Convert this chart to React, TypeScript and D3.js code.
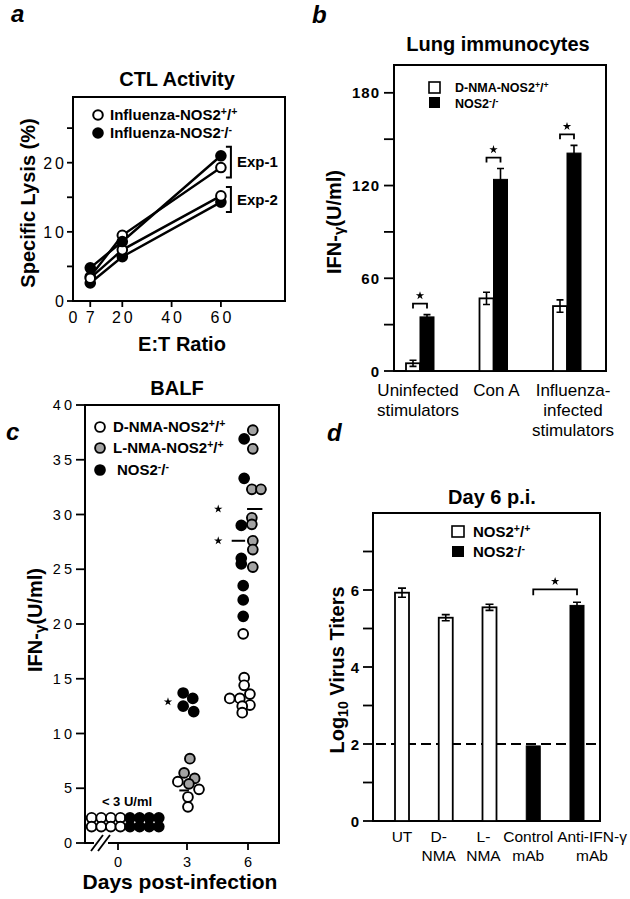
import React from 'react';
import * as d3 from 'd3';

const FONT = '"Liberation Sans", Arial, Helvetica, sans-serif';

// ---------- Panel a: CTL activity ----------
const etRatios = [7, 20, 60];
const ctlExp1WT = [3.5, 9.5, 19.3];
const ctlExp1KO = [4.8, 8.6, 21.0];
const ctlExp2WT = [3.3, 7.4, 15.2];
const ctlExp2KO = [2.6, 6.4, 14.3];
const ctlYTicks = [0, 5, 10, 15, 20, 25];
const ctlYTickLabels = [0, 10, 20];
const ctlXTicks = [7, 20, 40, 60];
const ctlXTickLabels = [0, 7, 20, 40, 60];

// ---------- Panel b: Lung immunocytes ----------
const lungCategories = ['Uninfected stimulators', 'Con A', 'Influenza-infected stimulators'];
const lungCategoryLines = [['Uninfected', 'stimulators'], ['Con A'], ['Influenza-', 'infected', 'stimulators']];
const lungWT = [5, 47, 42];
const lungWTErr = [2, 4, 4];
const lungKO = [35, 124, 141];
const lungKOErr = [1.5, 7, 5];
const lungYTicks = [0, 30, 60, 90, 120, 150, 180];
const lungYTickLabels = [0, 60, 120, 180];

// ---------- Panel c: BALF ----------
type Pt = { day: number; value: number; slot: number };
const balfDays = [0, 3, 6];
const balfDNMA: Pt[] = [
  { day: 0, value: 2.3, slot: -2.75 }, { day: 0, value: 2.3, slot: -1.75 }, { day: 0, value: 2.3, slot: -0.75 }, { day: 0, value: 2.3, slot: 0.25 },
  { day: 0, value: 1.5, slot: -2.75 }, { day: 0, value: 1.5, slot: -1.75 }, { day: 0, value: 1.5, slot: -0.75 }, { day: 0, value: 1.5, slot: 0.25 },
  { day: 3, value: 5.6, slot: -0.95 }, { day: 3, value: 4.9, slot: 1.25 }, { day: 3, value: 4.2, slot: 0.1 }, { day: 3, value: 3.3, slot: 0.1 },
  { day: 6, value: 19.1, slot: -0.5 }, { day: 6, value: 15.1, slot: -0.4 }, { day: 6, value: 14.4, slot: -0.4 },
  { day: 6, value: 13.2, slot: -1.9 }, { day: 6, value: 13.2, slot: -0.85 }, { day: 6, value: 13.6, slot: 0.2 },
  { day: 6, value: 12.6, slot: 0.2 }, { day: 6, value: 12.5, slot: -0.6 }, { day: 6, value: 11.9, slot: -0.6 },
];
const balfLNMA: Pt[] = [
  { day: 3, value: 7.7, slot: 0.3 }, { day: 3, value: 6.4, slot: -0.3 }, { day: 3, value: 5.9, slot: 0.8 }, { day: 3, value: 5.4, slot: 0.2 },
  { day: 6, value: 37.7, slot: 0.5 }, { day: 6, value: 36.0, slot: 0.5 }, { day: 6, value: 32.3, slot: 0.4 },
  { day: 6, value: 32.3, slot: 1.35 }, { day: 6, value: 29.7, slot: 0.4 }, { day: 6, value: 29.1, slot: 0.4 },
  { day: 6, value: 27.6, slot: 0.5 }, { day: 6, value: 26.8, slot: 0.5 }, { day: 6, value: 25.2, slot: 0.5 },
];
const balfKO: Pt[] = [
  { day: 0, value: 2.3, slot: 1.25 }, { day: 0, value: 2.3, slot: 2.25 }, { day: 0, value: 2.3, slot: 3.25 }, { day: 0, value: 2.3, slot: 4.25 },
  { day: 0, value: 1.5, slot: 1.25 }, { day: 0, value: 1.5, slot: 2.25 }, { day: 0, value: 1.5, slot: 3.25 }, { day: 0, value: 1.5, slot: 4.25 },
  { day: 3, value: 13.7, slot: -0.4 }, { day: 3, value: 13.2, slot: 0.6 }, { day: 3, value: 12.5, slot: -0.4 }, { day: 3, value: 12.0, slot: 0.7 },
  { day: 6, value: 36.9, slot: -0.4 }, { day: 6, value: 33.3, slot: -0.4 }, { day: 6, value: 29.0, slot: -0.7 },
  { day: 6, value: 26.0, slot: -0.7 }, { day: 6, value: 25.5, slot: -0.7 }, { day: 6, value: 23.5, slot: -0.5 },
  { day: 6, value: 22.2, slot: -0.5 }, { day: 6, value: 20.7, slot: -0.5 },
];
const balfMeans = [
  { day: 3, value: 4.8, slot: -0.3, half: 0.5 },
  { day: 6, value: 30.5, slot: 0.7, half: 0.8 },
  { day: 6, value: 27.6, slot: -1.0, half: 0.7 },
];
const balfStars = [
  { day: 3, value: 12.9, slot: -1.98 },
  { day: 6, value: 30.5, slot: -3.1 },
  { day: 6, value: 27.6, slot: -3.1 },
];
const balfYTicks = [0, 5, 10, 15, 20, 25, 30, 35, 40];

// ---------- Panel d: Day 6 p.i. ----------
const titerCats = ['UT', 'D-NMA', 'L-NMA', 'Control mAb', 'Anti-IFN-γ mAb'];
const titerLabelLines = [['UT'], ['D-', 'NMA'], ['L-', 'NMA'], ['Control', 'mAb'], ['Anti-IFN-γ', 'mAb']];
const titerGenotype = ['wt', 'wt', 'wt', 'ko', 'ko'];
const titerValues = [5.93, 5.28, 5.55, 1.95, 5.6];
const titerErr = [0.12, 0.08, 0.08, 0, 0.08];
const titerYTicks = [0, 1, 2, 3, 4, 5, 6, 7];
const titerYTickLabels = [0, 2, 4, 6];
const detectionLimit = 2;

// ---------- helpers ----------
const SLOT = 9.6;
const starPath = d3.symbol().type(d3.symbolStar).size(22)() as string;

function Nos({ prefix, sign, size }: { prefix: string; sign: string; size: number }) {
  const s = size * 0.7;
  const up = size * 0.34;
  return (
    <>
      {prefix}NOS2
      <tspan dy={-up} fontSize={s}>{sign}</tspan>
      <tspan dy={up}>/</tspan>
      <tspan dy={-up} fontSize={s}>{sign}</tspan>
    </>
  );
}

function Star({ x, y }: { x: number; y: number }) {
  return <path d={starPath} transform={`translate(${x},${y})`} fill="#000" />;
}

// ---------- Panel A ----------
function PanelA() {
  const x = d3.scaleLinear().domain([0, 86]).range([73, 285]);
  const y = d3.scaleLinear().domain([0, 29.5]).range([301, 97]);
  const line = d3.line<number>().x((_, i) => x(etRatios[i])).y((d) => y(d));
  const series = [
    { v: ctlExp1WT, fill: '#fff' },
    { v: ctlExp2KO, fill: '#000' },
    { v: ctlExp2WT, fill: '#fff' },
    { v: ctlExp1KO, fill: '#000' },
  ];
  const exps = [
    { name: 'Exp-1', vals: [ctlExp1WT[2], ctlExp1KO[2]] },
    { name: 'Exp-2', vals: [ctlExp2WT[2], ctlExp2KO[2]] },
  ];
  return (
    <g>
      <text x={11} y={22} fontSize={24} fontWeight="bold" fontStyle="italic">a</text>
      <text x={177} y={86} fontSize={20} fontWeight="bold" textAnchor="middle">CTL Activity</text>
      <rect x={x(0)} y={y(29.5)} width={x(86) - x(0)} height={y(0) - y(29.5)} fill="none" stroke="#000" strokeWidth={2} />
      {ctlYTicks.map((t) => (
        <line key={t} x1={x(0) - 6} x2={x(0)} y1={y(t)} y2={y(t)} stroke="#000" strokeWidth={1.8} />
      ))}
      {ctlYTickLabels.map((t) => (
        <text key={t} x={67} y={y(t) + 6} fontSize={16} textAnchor="end" letterSpacing={3}>{t}</text>
      ))}
      {ctlXTicks.map((t) => (
        <line key={t} x1={x(t)} x2={x(t)} y1={y(0)} y2={y(0) + 6} stroke="#000" strokeWidth={1.8} />
      ))}
      {ctlXTickLabels.map((t) => (
        <text key={t} x={x(t) + (t >= 10 ? 1.5 : 0)} y={323} fontSize={16} textAnchor="middle" letterSpacing={t >= 10 ? 3 : 0}>{t}</text>
      ))}
      <text x={182} y={351} fontSize={20} fontWeight="bold" textAnchor="middle">E:T Ratio</text>
      <text transform="translate(35,203) rotate(-90)" fontSize={20} fontWeight="bold" textAnchor="middle">Specific Lysis (%)</text>
      {series.map((s, i) => (
        <path key={i} d={line(s.v) as string} fill="none" stroke="#000" strokeWidth={2.4} />
      ))}
      {series.map((s, i) =>
        s.v.map((v, j) => (
          <circle key={`${i}-${j}`} cx={x(etRatios[j])} cy={y(v)} r={4.8} fill={s.fill} stroke="#000" strokeWidth={2} />
        ))
      )}
      {exps.map((e) => {
        const top = y(d3.max(e.vals) as number) - 9;
        const bot = y(d3.min(e.vals) as number) + 10;
        const bx = x(60) + 10;
        return (
          <g key={e.name}>
            <path d={`M${bx - 5},${top}H${bx}V${bot}H${bx - 5}`} fill="none" stroke="#000" strokeWidth={2} />
            <text x={bx + 6} y={(top + bot) / 2 + 5} fontSize={15} fontWeight="bold">{e.name}</text>
          </g>
        );
      })}
      <circle cx={98} cy={115} r={4.8} fill="#fff" stroke="#000" strokeWidth={2} />
      <circle cx={98} cy={133} r={4.8} fill="#000" stroke="#000" strokeWidth={2} />
      <text x={110} y={120} fontSize={15} fontWeight="bold">
        <Nos prefix="Influenza-" sign="+" size={15} />
      </text>
      <text x={110} y={138} fontSize={15} fontWeight="bold">
        <Nos prefix="Influenza-" sign="-" size={15} />
      </text>
    </g>
  );
}

// ---------- Panel B ----------
function PanelB() {
  const y = d3.scaleLinear().domain([0, 198]).range([371, 65]);
  const x = d3.scalePoint<string>().domain(lungCategories).range([420, 567]);
  const bw = 14;
  const labelNudge = [-2, 3, 6];
  return (
    <g>
      <text x={312} y={23} fontSize={24} fontWeight="bold" fontStyle="italic">b</text>
      <text x={498} y={51} fontSize={20} fontWeight="bold" textAnchor="middle">Lung immunocytes</text>
      <rect x={394} y={y(198)} width={212} height={y(0) - y(198)} fill="none" stroke="#000" strokeWidth={2} />
      {lungYTicks.map((t) => (
        <line key={t} x1={384} x2={394} y1={y(t)} y2={y(t)} stroke="#000" strokeWidth={1.8} />
      ))}
      {lungYTickLabels.map((t) => (
        <text key={t} x={380} y={y(t) + 5.5} fontSize={15} fontWeight="bold" textAnchor="end" letterSpacing={1}>{t}</text>
      ))}
      <text transform="translate(341,222) rotate(-90)" fontSize={20} fontWeight="bold" textAnchor="middle">
        IFN-<tspan fontSize={15} dy={3}>γ</tspan><tspan dy={-3}>(U/ml)</tspan>
      </text>
      {lungCategories.map((c, i) => {
        const cx = x(c) as number;
        const top = y(Math.max(lungWT[i] + lungWTErr[i], lungKO[i] + lungKOErr[i])) - 11;
        return (
          <g key={c}>
            <rect x={cx - bw} y={y(lungWT[i])} width={bw} height={y(0) - y(lungWT[i])} fill="#fff" stroke="#000" strokeWidth={1.8} />
            <rect x={cx} y={y(lungKO[i])} width={bw} height={y(0) - y(lungKO[i])} fill="#000" stroke="#000" strokeWidth={1} />
            {[{ v: lungWT[i], e: lungWTErr[i], c: cx - bw / 2 }, { v: lungKO[i], e: lungKOErr[i], c: cx + bw / 2 }].map((b, k) => (
              <path key={k} d={`M${b.c},${y(b.v - b.e)}V${y(b.v + b.e)}M${b.c - 3.5},${y(b.v + b.e)}h7M${b.c - 3.5},${y(b.v - b.e)}h7`} stroke="#000" strokeWidth={1.6} fill="none" />
            ))}
            <path d={`M${cx - 7},${top + 5}V${top}H${cx + 7}V${top + 5}`} fill="none" stroke="#000" strokeWidth={1.8} />
            <Star x={cx} y={top - 8} />
            {lungCategoryLines[i].map((l, k) => (
              <text key={k} x={cx + labelNudge[i]} y={396 + k * 20} fontSize={17} textAnchor="middle">{l}</text>
            ))}
          </g>
        );
      })}
      <rect x={429} y={82} width={11} height={11} fill="#fff" stroke="#000" strokeWidth={1.6} />
      <rect x={429} y={97} width={11} height={11} fill="#000" />
      <text x={455} y={92} fontSize={12.5} fontWeight="bold"><Nos prefix="D-NMA-" sign="+" size={12.5} /></text>
      <text x={455} y={108} fontSize={12.5} fontWeight="bold"><Nos prefix="" sign="-" size={12.5} /></text>
    </g>
  );
}

// ---------- Panel C ----------
function PanelC() {
  const y = d3.scaleLinear().domain([0, 40]).range([843, 405]);
  const x = d3.scaleLinear().domain(balfDays).range([118, 187, 248]);
  const px = (p: { day: number; slot: number }) => x(p.day) + p.slot * SLOT;
  const groups = [
    { pts: balfDNMA, fill: '#fff' },
    { pts: balfKO, fill: '#000' },
    { pts: balfLNMA, fill: '#a3a3a3' },
  ];
  return (
    <g>
      <text x={6} y={440} fontSize={24} fontWeight="bold" fontStyle="italic">c</text>
      <text x={177} y={395} fontSize={20} fontWeight="bold" textAnchor="middle">BALF</text>
      <rect x={85} y={y(40)} width={279 - 85} height={y(0) - y(40)} fill="none" stroke="#000" strokeWidth={2} />
      {balfYTicks.map((t) => (
        <g key={t}>
          <line x1={76} x2={85} y1={y(t)} y2={y(t)} stroke="#000" strokeWidth={1.8} />
          <text x={75} y={y(t) + 5} fontSize={14.5} textAnchor="end" letterSpacing={3}>{t}</text>
        </g>
      ))}
      {balfDays.map((d) => (
        <g key={d}>
          <line x1={x(d)} x2={x(d)} y1={y(0)} y2={y(0) + 7} stroke="#000" strokeWidth={1.8} />
          <text x={x(d)} y={867} fontSize={14.5} textAnchor="middle">{d}</text>
        </g>
      ))}
      <line x1={94} x2={108} y1={y(0)} y2={y(0)} stroke="#fff" strokeWidth={4} />
      <line x1={91} y1={851} x2={103} y2={835} stroke="#000" strokeWidth={1.8} />
      <line x1={98} y1={851} x2={110} y2={835} stroke="#000" strokeWidth={1.8} />
      <text x={180} y={889} fontSize={21} fontWeight="bold" textAnchor="middle">Days post-infection</text>
      <text transform="translate(42,620) rotate(-90)" fontSize={20} fontWeight="bold" textAnchor="middle">
        IFN-<tspan fontSize={15} dy={3}>γ</tspan><tspan dy={-3}>(U/ml)</tspan>
      </text>
      <text x={127} y={806} fontSize={13} fontWeight="bold" textAnchor="middle">&lt; 3 U/ml</text>
      {balfMeans.map((m, i) => (
        <line key={i} x1={px(m) - m.half * SLOT} x2={px(m) + m.half * SLOT} y1={y(m.value)} y2={y(m.value)} stroke="#000" strokeWidth={2} />
      ))}
      {groups.map((g, gi) =>
        g.pts.map((p, i) => (
          <circle key={`${gi}-${i}`} cx={px(p)} cy={y(p.value)} r={4.9} fill={g.fill} stroke="#000" strokeWidth={1.9} />
        ))
      )}
      {balfStars.map((s, i) => (
        <Star key={i} x={px(s)} y={y(s.value)} />
      ))}
      <circle cx={100} cy={427} r={4.9} fill="#fff" stroke="#000" strokeWidth={1.9} />
      <circle cx={100} cy={448} r={4.9} fill="#a3a3a3" stroke="#000" strokeWidth={1.9} />
      <circle cx={100} cy={470} r={4.9} fill="#000" stroke="#000" strokeWidth={1.9} />
      <text x={113} y={432} fontSize={15} fontWeight="bold"><Nos prefix="D-NMA-" sign="+" size={15} /></text>
      <text x={113} y={453} fontSize={15} fontWeight="bold"><Nos prefix="L-NMA-" sign="+" size={15} /></text>
      <text x={117} y={475} fontSize={15} fontWeight="bold"><Nos prefix="" sign="-" size={15} /></text>
    </g>
  );
}

// ---------- Panel D ----------
function PanelD() {
  const y = d3.scaleLinear().domain([0, 8]).range([821, 513]);
  const x = d3.scalePoint<string>().domain(titerCats).range([402, 577]);
  const bw = 14;
  const labelNudge = [0, -7, -6, -5, 15];
  const cA = x(titerCats[3]) as number;
  const cB = x(titerCats[4]) as number;
  const bTop = y(Math.max(titerValues[3] + titerErr[3], titerValues[4] + titerErr[4])) - 13;
  return (
    <g>
      <text x={327} y={441} fontSize={24} fontWeight="bold" fontStyle="italic">d</text>
      <text x={492} y={504} fontSize={20} fontWeight="bold" textAnchor="middle">Day 6 p.i.</text>
      <rect x={373} y={y(8)} width={600 - 373} height={y(0) - y(8)} fill="none" stroke="#000" strokeWidth={2} />
      {titerYTicks.map((t) => (
        <line key={t} x1={363} x2={373} y1={y(t)} y2={y(t)} stroke="#000" strokeWidth={1.8} />
      ))}
      {titerYTickLabels.map((t) => (
        <text key={t} x={359} y={y(t) + 5.5} fontSize={15} fontWeight="bold" textAnchor="end">{t}</text>
      ))}
      <text transform="translate(344,670) rotate(-90)" fontSize={20} fontWeight="bold" textAnchor="middle">
        Log<tspan fontSize={14} dy={4}>10</tspan><tspan dy={-4}> Virus Titers</tspan>
      </text>
      <line x1={376} x2={600} y1={y(detectionLimit)} y2={y(detectionLimit)} stroke="#000" strokeWidth={2} strokeDasharray="10,5" />
      {titerCats.map((c, i) => {
        const cx = x(c) as number;
        const v = titerValues[i];
        const e = titerErr[i];
        const wt = titerGenotype[i] === 'wt';
        return (
          <g key={c}>
            <rect x={cx - bw / 2} y={y(v)} width={bw} height={y(0) - y(v)} fill={wt ? '#fff' : '#000'} stroke="#000" strokeWidth={wt ? 1.8 : 1} />
            {e > 0 && (
              <path d={`M${cx},${y(v - e)}V${y(v + e)}M${cx - 4},${y(v + e)}h8M${cx - 4},${y(v - e)}h8`} stroke="#000" strokeWidth={1.6} fill="none" />
            )}
            {titerLabelLines[i].map((l, k) => (
              <text key={k} x={cx + labelNudge[i]} y={842 + k * 19} fontSize={15.5} textAnchor="middle">{l}</text>
            ))}
          </g>
        );
      })}
      <path d={`M${cA},${bTop + 6}V${bTop}H${cB}V${bTop + 6}`} fill="none" stroke="#000" strokeWidth={1.8} />
      <Star x={(cA + cB) / 2} y={bTop - 8} />
      <rect x={452} y={526} width={12} height={11} fill="#fff" stroke="#000" strokeWidth={1.6} />
      <rect x={452} y={546} width={12} height={11} fill="#000" />
      <text x={473} y={537} fontSize={15} fontWeight="bold"><Nos prefix="" sign="+" size={15} /></text>
      <text x={473} y={557} fontSize={15} fontWeight="bold"><Nos prefix="" sign="-" size={15} /></text>
    </g>
  );
}

export default function App() {
  return (
    <svg
      width={630}
      height={899}
      viewBox="0 0 630 899"
      style={{ position: 'absolute', left: 0, top: 0, background: '#fff' }}
      fontFamily={FONT}
    >
      <rect width={630} height={899} fill="#fff" />
      <PanelA />
      <PanelB />
      <PanelC />
      <PanelD />
    </svg>
  );
}
